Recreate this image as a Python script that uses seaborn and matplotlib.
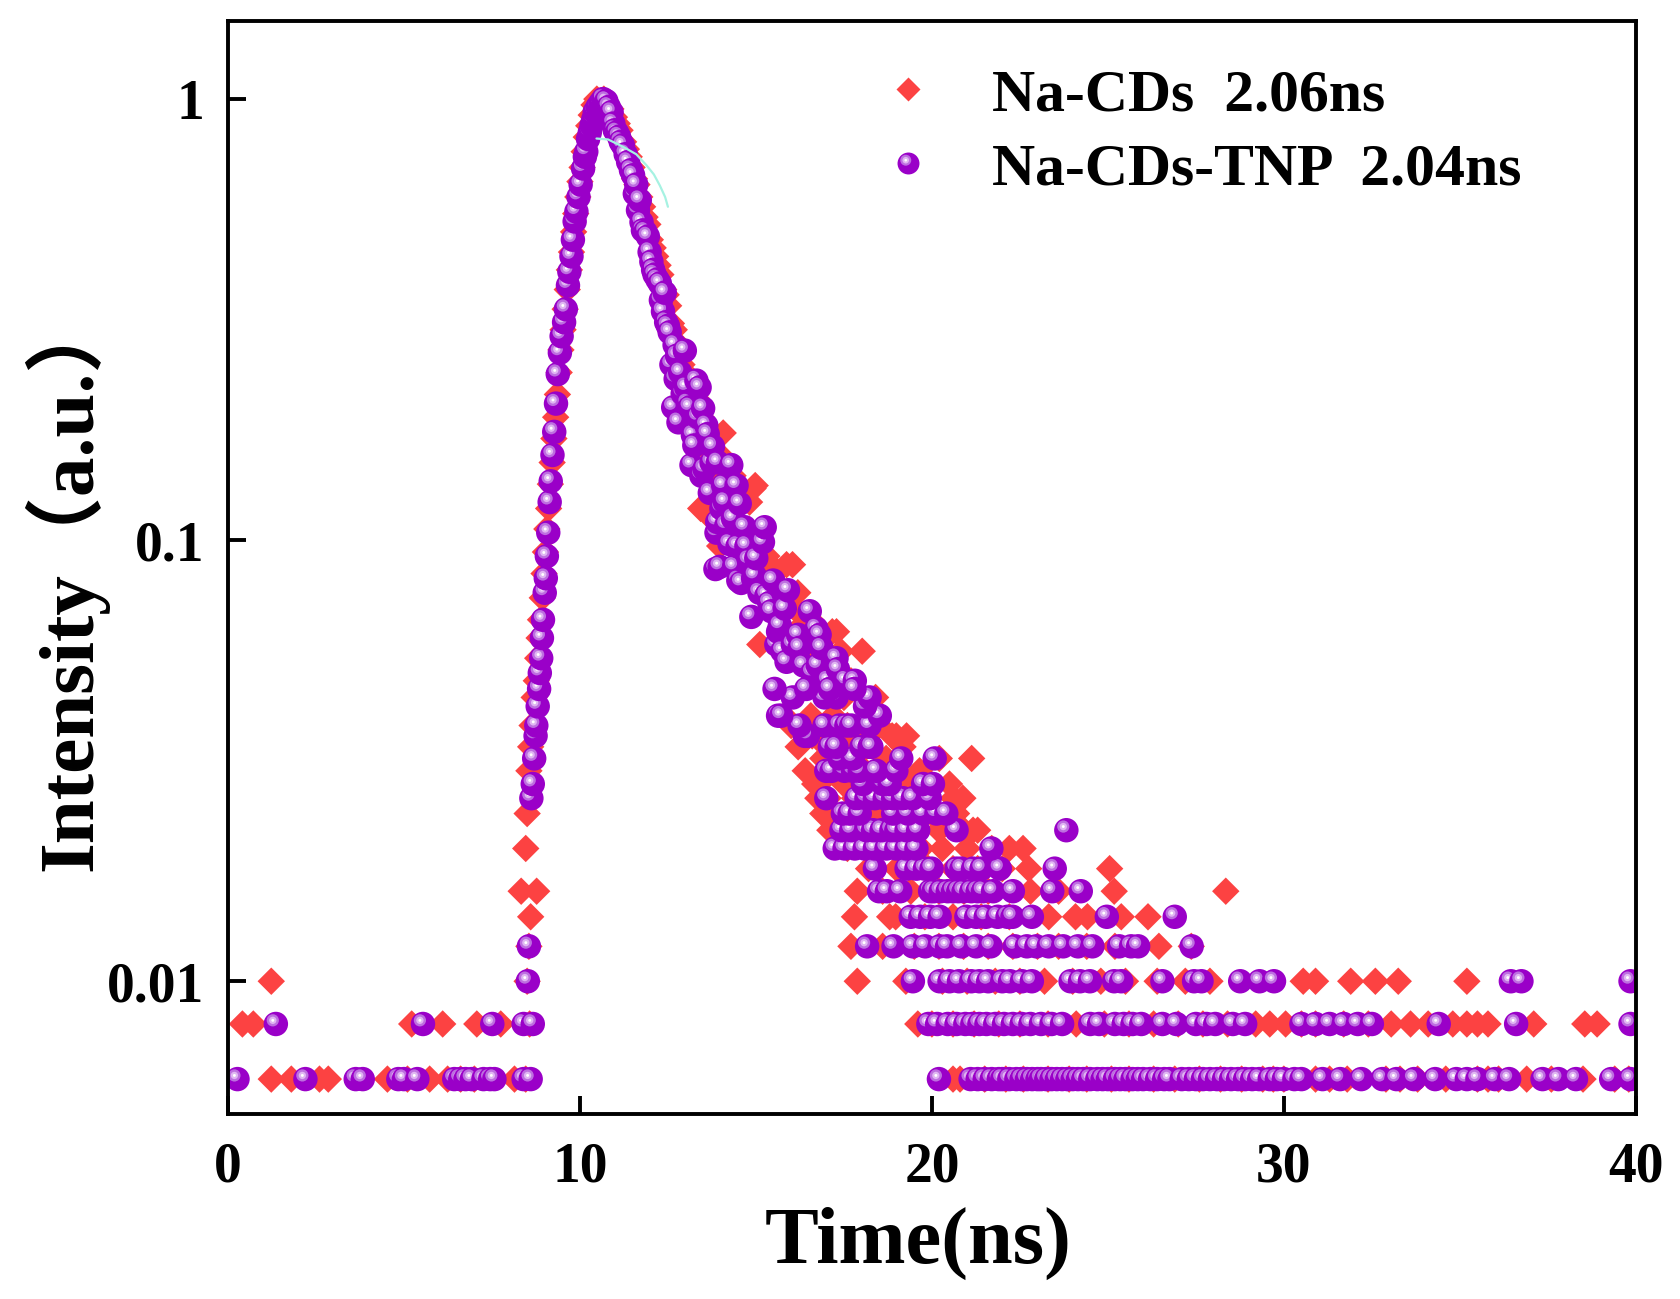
import numpy as np
import pandas as pd
import matplotlib
matplotlib.use("Agg")
import matplotlib.pyplot as plt
from matplotlib.path import Path
from matplotlib.lines import Line2D
from matplotlib.ticker import NullLocator
import seaborn as sns

# ---------------- data ----------------
# continuous part (rise, peak, fast decay): time (ns) / normalised intensity
cds_body_t = [8.50, 8.55, 8.60, 8.64, 8.70, 8.76, 8.80, 8.84, 8.88, 8.93, 8.98, 9.02,
              9.06, 9.11, 9.16, 9.21, 9.26, 9.31, 9.36, 9.41, 9.46, 9.52, 9.58, 9.64,
              9.70, 9.76, 9.82, 9.88, 9.94, 10.00, 10.06, 10.12, 10.18, 10.25, 10.32,
              10.40, 10.48, 10.58, 10.68, 10.78, 10.88, 10.98, 11.06, 11.14, 11.24,
              11.32, 11.40, 11.48, 11.55, 11.62, 11.70, 11.78, 11.85, 11.93, 12.00,
              12.08, 12.15, 12.22, 12.30, 12.38, 12.45, 12.52, 12.60, 12.68, 12.75,
              12.82, 12.90, 12.98, 13.05, 13.12, 13.20, 13.30, 13.38, 13.43, 13.45,
              13.52, 13.60, 13.62, 13.69, 13.72, 13.80, 13.88, 13.97, 14.02, 14.07,
              14.15, 14.25, 14.35, 14.45, 14.55, 14.65, 14.82, 14.92, 14.98, 15.05,
              15.11, 15.20, 15.31, 15.40, 15.50, 15.60, 15.70, 15.87, 16.04, 16.10,
              16.19, 16.30, 16.45, 16.56, 16.70, 16.90, 17.00, 17.17, 17.29, 17.41,
              17.50, 17.70, 18.02, 18.20, 18.40]
cds_body_i = [0.024, 0.030, 0.034, 0.038, 0.044, 0.048, 0.054, 0.060, 0.066, 0.074, 0.084, 0.094,
              0.106, 0.118, 0.134, 0.150, 0.170, 0.190, 0.214, 0.240, 0.270, 0.300, 0.334, 0.370,
              0.410, 0.450, 0.500, 0.550, 0.600, 0.650, 0.700, 0.760, 0.820, 0.870, 0.920,
              0.970, 1.000, 0.990, 1.000, 0.970, 0.950, 0.910, 0.880, 0.850, 0.800,
              0.770, 0.740, 0.700, 0.660, 0.640, 0.600, 0.570, 0.540, 0.520, 0.480,
              0.460, 0.440, 0.420, 0.400, 0.370, 0.360, 0.340, 0.310, 0.300, 0.280,
              0.270, 0.250, 0.240, 0.230, 0.220, 0.200, 0.210, 0.180, 0.118, 0.190,
              0.170, 0.115, 0.160, 0.121, 0.175, 0.150, 0.140, 0.097, 0.155, 0.175,
              0.130, 0.120, 0.140, 0.110, 0.125, 0.100, 0.122, 0.131, 0.133, 0.095,
              0.058, 0.088, 0.092, 0.080, 0.072, 0.085, 0.068, 0.088, 0.088, 0.070,
              0.076, 0.064, 0.060, 0.066, 0.056, 0.050, 0.046, 0.062, 0.062, 0.056,
              0.044, 0.048, 0.056, 0.042, 0.044]

tnp_body_t = [8.62, 8.66, 8.70, 8.74, 8.76, 8.80, 8.84, 8.86, 8.90, 8.92, 8.95, 9.00,
              9.03, 9.06, 9.10, 9.14, 9.17, 9.22, 9.27, 9.32, 9.37, 9.43, 9.48, 9.55,
              9.60, 9.66, 9.70, 9.76, 9.80, 9.85, 9.90, 9.96, 10.02, 10.09, 10.14, 10.18,
              10.23, 10.28, 10.33, 10.38, 10.42, 10.50, 10.58, 10.66, 10.75, 10.82, 10.90,
              10.95, 10.99, 11.05, 11.11, 11.16, 11.22, 11.30, 11.37, 11.45, 11.51, 11.56,
              11.60, 11.65, 11.70, 11.75, 11.79, 11.86, 11.93, 11.98, 12.03, 12.08, 12.12,
              12.20, 12.27, 12.30, 12.36, 12.41, 12.45, 12.50, 12.55, 12.60, 12.65, 12.69,
              12.72, 12.76, 12.80, 12.85, 12.92, 12.98, 13.02, 13.06, 13.12, 13.17, 13.21,
              13.25, 13.31, 13.36, 13.40, 13.45, 13.50, 13.54, 13.59, 13.63, 13.69, 13.74,
              13.78, 13.85, 13.88, 13.90, 13.92, 13.97, 14.02, 14.07, 14.12, 14.16, 14.25,
              14.30, 14.35, 14.38, 14.45, 14.48, 14.50, 14.54, 14.58, 14.68, 14.73, 14.80,
              14.87, 14.92, 14.97, 15.01, 15.10, 15.20, 15.25, 15.30, 15.38, 15.44, 15.49,
              15.58, 15.63, 15.68, 15.75, 15.82, 15.87, 15.91, 16.05, 16.20, 16.24, 16.35,
              16.53, 16.60, 16.72, 16.76, 16.81, 16.86, 17.05, 17.29, 17.33, 17.55, 17.81]
tnp_body_i = [0.026, 0.028, 0.032, 0.036, 0.038, 0.042, 0.046, 0.050, 0.054, 0.060, 0.066, 0.076,
              0.082, 0.092, 0.104, 0.122, 0.136, 0.156, 0.176, 0.204, 0.238, 0.266, 0.290, 0.312,
              0.334, 0.378, 0.406, 0.440, 0.480, 0.528, 0.556, 0.600, 0.640, 0.696, 0.740, 0.760,
              0.812, 0.840, 0.872, 0.900, 0.936, 0.960, 0.980, 1.000, 0.990, 0.960, 0.934,
              0.880, 0.850, 0.840, 0.822, 0.800, 0.786, 0.750, 0.720, 0.690, 0.672, 0.610,
              0.640, 0.560, 0.590, 0.526, 0.504, 0.500, 0.488, 0.450, 0.428, 0.410, 0.400,
              0.390, 0.382, 0.350, 0.330, 0.364, 0.312, 0.306, 0.296, 0.250, 0.200, 0.277,
              0.232, 0.262, 0.185, 0.240, 0.215, 0.269, 0.222, 0.204, 0.200, 0.148, 0.173,
              0.164, 0.230, 0.190, 0.222, 0.140, 0.199, 0.145, 0.182, 0.174, 0.128, 0.150,
              0.163, 0.086, 0.104, 0.110, 0.150, 0.087, 0.118, 0.133, 0.122, 0.108, 0.098,
              0.148, 0.112, 0.087, 0.133, 0.097, 0.081, 0.121, 0.080, 0.107, 0.097, 0.090,
              0.067, 0.082, 0.083, 0.091, 0.076, 0.099, 0.107, 0.075, 0.072, 0.069, 0.081,
              0.058, 0.062, 0.064, 0.056, 0.070, 0.053, 0.077, 0.058, 0.061, 0.057, 0.052,
              0.069, 0.050, 0.063, 0.052, 0.061, 0.057, 0.048, 0.054, 0.051, 0.048, 0.048]

# photon-count floor: discrete intensity levels and the times where a point sits on them
cds_levels = [0.006, 0.008, 0.010, 0.012, 0.014, 0.016, 0.018, 0.020, 0.022,
              0.024, 0.026, 0.028, 0.030, 0.032, 0.034, 0.036, 0.038, 0.040]
cds_006 = [1.23, 1.8, 2.6, 2.85, 4.53, 5.1, 5.73, 6.24, 6.61, 7.0, 8.14, 8.46, 20.6, 20.8,
           21.5, 22.1, 22.6, 23.3, 23.9, 24.4, 25.1, 25.6, 26.3, 26.9, 27.6, 28.2, 28.8,
           29.4, 29.7, 30.0, 30.9, 31.3, 31.8, 32.9, 33.3, 33.8, 34.6, 35.5, 35.8, 36.1,
           36.9, 37.6, 38.5, 39.4, 39.8]
cds_008 = [0.41, 0.72, 5.22, 6.1, 7.07, 7.75, 8.57, 19.6, 20.0, 20.6, 21.2, 21.9, 22.5,
           23.3, 24.1, 24.9, 25.6, 26.3, 27.0, 27.7, 28.4, 29.2, 29.6, 30.05, 30.5, 30.9,
           31.7, 32.4, 33.05, 33.6, 34.1, 34.8, 35.2, 35.5, 35.8, 37.1, 38.55, 38.9]
cds_010 = [1.23, 8.5, 17.88, 19.26, 20.3, 21.0, 21.8, 22.5, 23.2, 24.0, 24.8, 25.5, 26.4,
           27.2, 27.9, 30.55, 30.9, 31.9, 32.6, 33.25, 35.2]
cds_012 = [8.55, 17.7, 18.6, 19.5, 20.2, 20.9, 21.6, 22.3, 23.0, 23.6, 24.4, 25.2, 26.45, 27.37]
cds_014 = [8.6, 17.8, 18.8, 18.97, 19.8, 20.6, 21.4, 22.2, 23.32, 24.08, 24.42, 25.38, 26.14]
cds_016 = [8.33, 8.77, 17.88, 18.6, 19.4, 20.2, 20.91, 21.6, 22.8, 23.6, 25.18, 28.35]
cds_018 = [18.2, 19.0, 19.9, 20.6, 21.3, 22.0, 22.75, 25.05]
cds_020 = [8.46, 17.6, 18.3, 19.0, 19.7, 20.3, 21.0, 21.7, 22.2, 22.59]
cds_022 = [17.1, 17.9, 18.7, 19.5, 20.2, 20.91, 21.17, 21.3]
cds_024 = [16.9, 17.6, 18.4, 19.2, 20.0, 20.7]
cds_026 = [16.76, 17.05, 17.8, 18.6, 19.4, 20.61, 20.88]
cds_028 = [16.67, 16.8, 17.5, 18.48, 19.3, 20.5]
cds_030 = [16.4, 17.3, 18.1, 19.0, 19.65]
cds_032 = [16.9, 17.8, 18.7, 20.21, 21.13]
cds_034 = [16.2, 17.0, 17.9, 19.18]
cds_036 = [16.6, 17.72, 18.87, 18.99, 19.28]
cds_038 = [16.0, 16.8, 17.6, 18.5]
cds_040 = [15.8, 16.56, 17.2]
cds_rows = [cds_006, cds_008, cds_010, cds_012, cds_014, cds_016, cds_018, cds_020, cds_022,
            cds_024, cds_026, cds_028, cds_030, cds_032, cds_034, cds_036, cds_038, cds_040]

tnp_levels = [0.006, 0.008, 0.010, 0.012, 0.014, 0.016, 0.018, 0.020, 0.022, 0.024,
              0.026, 0.028, 0.030, 0.032, 0.034, 0.036, 0.038, 0.040, 0.042, 0.044, 0.046]
tnp_006 = [0.27, 2.2, 3.63, 3.83, 4.84, 5.0, 5.38, 6.43, 6.6, 6.75, 6.93, 7.26, 7.45, 7.57,
           8.4, 8.6, 20.2, 21.1, 21.3, 21.5, 21.7, 21.9, 22.0, 22.2, 22.4, 22.55, 22.7,
           22.85, 23.0, 23.1, 23.25, 23.4, 23.55, 23.7, 23.85, 24.0, 24.15, 24.3, 24.5,
           24.7, 24.85, 25.0, 25.2, 25.35, 25.5, 25.7, 25.85, 26.0, 26.2, 26.4, 26.6,
           26.75, 27.1, 27.3, 27.5, 27.7, 27.9, 28.1, 28.3, 28.5, 28.7, 28.9, 29.1, 29.3,
           29.6, 29.8, 30.0, 30.3, 30.5, 31.1, 31.6, 32.2, 32.8, 33.2, 33.7, 34.3, 34.9,
           35.2, 35.5, 36.0, 36.4, 37.35, 37.8, 38.3, 39.3, 39.85]
tnp_008 = [1.36, 5.54, 7.51, 8.4, 8.66, 19.9, 20.15, 20.45, 20.7, 20.95, 21.15, 21.35,
           21.55, 21.8, 22.05, 22.3, 22.55, 22.8, 23.1, 23.4, 23.7, 24.5, 24.75, 25.2,
           25.45, 25.7, 25.95, 26.55, 26.95, 27.5, 27.8, 28.05, 28.55, 28.9, 30.5, 30.9,
           31.3, 31.7, 32.1, 32.5, 34.4, 36.6, 39.85]
tnp_010 = [8.52, 19.46, 20.22, 20.5, 20.77, 21.12, 21.35, 21.6, 22.0, 22.22, 22.56, 22.84,
           23.94, 24.21, 24.49, 25.18, 25.38, 26.55, 27.45, 27.66, 28.76, 29.31, 29.72,
           36.45, 36.75, 39.85]
tnp_012 = [8.55, 18.16, 18.91, 19.46, 19.81, 20.22, 20.43, 20.84, 21.26, 21.67, 22.36,
           22.7, 22.97, 23.32, 23.73, 24.15, 24.56, 25.32, 25.66, 25.86, 27.38]
tnp_014 = [19.4, 19.67, 19.95, 20.22, 20.98, 21.26, 21.53, 21.87, 22.15, 22.29, 22.84,
           24.97, 26.9]
tnp_016 = [18.5, 18.72, 19.1, 19.95, 20.05, 20.25, 20.45, 20.6, 20.75, 20.9, 21.12, 21.3,
           21.45, 21.74, 22.3, 23.42, 24.23]
tnp_018 = [18.38, 19.28, 19.56, 19.8, 19.99, 20.7, 20.84, 21.17, 21.41, 21.93, 23.49]
tnp_020 = [17.24, 17.52, 17.81, 18.09, 18.38, 18.71, 18.99, 19.28, 19.56, 21.69]
tnp_022 = [17.43, 17.71, 18.14, 18.33, 18.57, 18.85, 18.99, 19.28, 19.61, 20.7, 23.82]
tnp_024 = [17.47, 17.66, 17.95, 18.9, 19.32, 19.75, 20.13, 20.41]
tnp_026 = [17.0, 17.86, 18.14, 18.38, 18.66, 18.9, 19.18, 19.46, 19.94]
tnp_028 = [18.04, 18.61, 18.8, 19.75, 20.03]
tnp_030 = [17.0, 17.15, 17.52, 17.76, 17.95, 18.42, 18.99]
tnp_032 = [17.38, 17.76, 19.13, 20.08]
tnp_034 = [17.1, 17.29, 18.0, 18.23, 18.28]
tnp_036 = [16.39, 16.48]
tnp_038 = [16.24, 16.95, 17.38, 17.57, 17.71, 18.23]
tnp_040 = [15.63, 15.72, 18.52]
tnp_042 = [18.1]
tnp_044 = [16.05, 16.95, 17.29, 18.23]
tnp_046 = [15.53, 16.43, 17.1, 17.8]
tnp_rows = [tnp_006, tnp_008, tnp_010, tnp_012, tnp_014, tnp_016, tnp_018, tnp_020,
            tnp_022, tnp_024, tnp_026, tnp_028, tnp_030, tnp_032, tnp_034, tnp_036,
            tnp_038, tnp_040, tnp_042, tnp_044, tnp_046]

# thin fit curve near the maximum
fit_t = [10.47, 10.8, 11.22, 11.6, 11.89, 12.1, 12.27, 12.42, 12.5]
fit_i = [0.814, 0.81, 0.78, 0.75, 0.708, 0.675, 0.637, 0.6, 0.57]

labels = ["Na-CDs  2.06ns", "Na-CDs-TNP  2.04ns"]

RED = "#FC4242"
sphere_colors = {"body": "#9A00C8", "glow": "#BD6FE0", "mid": "#E0B6F2", "spot": "#FFFFFF"}


def collect(body_t, body_i, levels, rows):
    t = list(body_t)
    i = list(body_i)
    for lvl, ts in zip(levels, rows):
        t += ts
        i += [lvl] * len(ts)
    return pd.DataFrame({"t": t, "i": i})


cds = collect(cds_body_t, cds_body_i, cds_levels, cds_rows)
tnp = collect(tnp_body_t, tnp_body_i, tnp_levels, tnp_rows)

# shaded "sphere" marker: dark disc + off-centre highlight discs (same normalisation)
def glint(r):
    anchor = Path([(1.0, 0.0)], [Path.MOVETO])
    return Path.make_compound_path(anchor, Path.circle(center=(-0.25, 0.30), radius=r))

sphere_marks = {"body": Path.unit_circle(), "glow": glint(0.50),
                "mid": glint(0.30), "spot": glint(0.12)}
layers = ["body", "glow", "mid", "spot"]
sph = pd.DataFrame({"t": np.repeat(tnp["t"].values, 4),
                    "i": np.repeat(tnp["i"].values, 4),
                    "layer": layers * len(tnp)})

# ---------------- plot ----------------
sns.set_style("ticks")
plt.rcParams["font.family"] = ["Liberation Serif", "Noto Sans CJK SC"]
plt.rcParams["font.weight"] = "bold"
for key in ["text.color", "axes.labelcolor", "xtick.color", "ytick.color", "axes.edgecolor"]:
    plt.rcParams[key] = "black"

fig = plt.figure(figsize=(16.8, 12.99), dpi=100)
ax = fig.add_axes([0.1357, 0.1424, 0.838, 0.8411])
ax.set_yscale("log")

sns.scatterplot(data=cds, x="t", y="i", marker="D", s=195, color=RED,
                linewidth=0, edgecolor="none", legend=False, ax=ax)
sns.scatterplot(data=sph, x="t", y="i", hue="layer", style="layer",
                hue_order=layers, style_order=layers, palette=sphere_colors,
                markers=sphere_marks, s=310, linewidth=0, edgecolor="none",
                legend=False, ax=ax)
sns.lineplot(x=fit_t, y=fit_i, color="#A6F2E2", linewidth=1.6, sort=False,
             estimator=None, ax=ax)

ax.set_xlim(0, 40)
ax.set_ylim(0.005, 1.5)
ax.set_xticks([0, 10, 20, 30, 40])
ax.set_yticks([0.01, 0.1, 1])
ax.set_yticklabels(["0.01", "0.1", "1"])
ax.yaxis.set_minor_locator(NullLocator())
ax.xaxis.set_minor_locator(NullLocator())
ax.tick_params(direction="in", length=13, width=2.8, labelsize=40, colors="black")
ax.tick_params(axis="x", pad=20)
ax.tick_params(axis="y", pad=17)
for sp in ax.spines.values():
    sp.set_linewidth(2.8)
    sp.set_color("black")

ax.set_xlabel("Time(ns)", fontsize=58, fontweight="bold", va="center", color="black")
ax.xaxis.set_label_coords(0.49, -0.118)
ax.set_ylabel("Intensity（a.u.）", fontsize=57, fontweight="bold", va="center", color="black")
ax.yaxis.set_label_coords(-0.115, 0.488)

h_red = Line2D([], [], ls="none", marker="D", markersize=12.7, color=RED, mec="none")
h_tnp = tuple(Line2D([], [], ls="none", marker=sphere_marks[k], markersize=15.8,
                     color=sphere_colors[k], mec="none") for k in layers)
leg = ax.legend([h_red, h_tnp], labels, loc="upper left", bbox_to_anchor=(0.462, 0.957),
                frameon=False, numpoints=1, handlelength=1.0, handletextpad=0.9,
                borderpad=0, borderaxespad=0, labelspacing=0.32,
                prop={"family": "Liberation Serif", "weight": "bold", "size": 43})
for txt in leg.get_texts():
    txt.set_color("black")

fig.savefig("out.png", dpi=100)
